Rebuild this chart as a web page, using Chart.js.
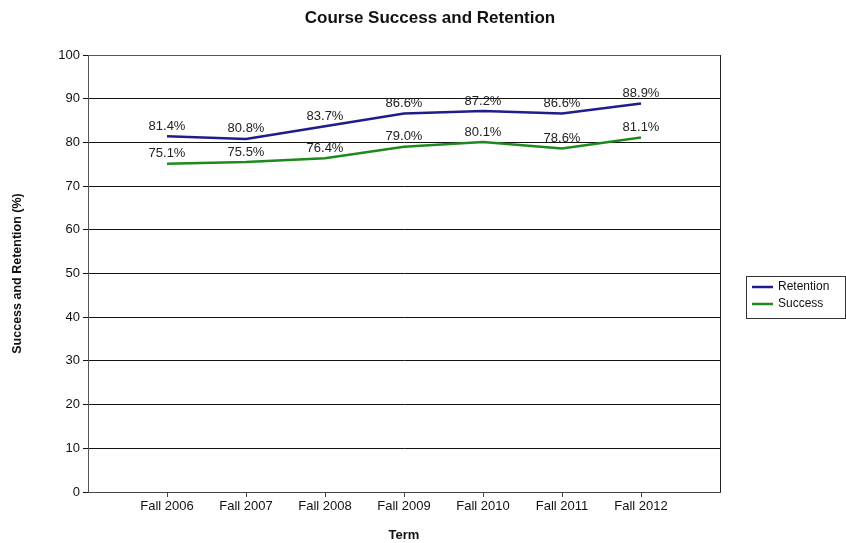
<!DOCTYPE html>
<html>
<head>
<meta charset="utf-8">
<script src="https://cdn.jsdelivr.net/npm/chart.js@4.4.1/dist/chart.umd.min.js"></script>
<style>
  html, body { margin: 0; padding: 0; background: #ffffff; }
  #wrap { width: 846px; height: 543px; position: relative; }
</style>
</head>
<body>
<div id="wrap"><canvas id="c" width="846" height="543"></canvas></div>
<script>
const chartTitle = "Course Success and Retention";
const terms = ["Fall 2006", "Fall 2007", "Fall 2008", "Fall 2009", "Fall 2010", "Fall 2011", "Fall 2012"];
const retention = [81.4, 80.8, 83.7, 86.6, 87.2, 86.6, 88.9];
const success = [75.1, 75.5, 76.4, 79.0, 80.1, 78.6, 81.1];
const seriesNames = ["Retention", "Success"];
const seriesColors = ["#1f1d8a", "#1e8a1e"];

const SANS = "'Liberation Sans', Arial, sans-serif";

function toPoints(arr) { return arr.map((v, i) => ({ x: i + 1, y: v })); }

const titlePlugin = {
  id: 'titlePlugin',
  afterDraw(chart) {
    const ctx = chart.ctx;
    ctx.save();
    ctx.font = "bold 17px " + SANS;
    ctx.fillStyle = "#111111";
    ctx.textAlign = "center";
    ctx.textBaseline = "middle";
    ctx.fillText(chartTitle, 430, 18);
    ctx.restore();
  }
};

const dataLabels = {
  id: 'dataLabels',
  afterDatasetsDraw(chart) {
    const ctx = chart.ctx;
    ctx.save();
    ctx.font = "13px " + SANS;
    ctx.fillStyle = "#222222";
    ctx.textAlign = "center";
    ctx.textBaseline = "middle";
    chart.data.datasets.forEach((ds, di) => {
      const meta = chart.getDatasetMeta(di);
      meta.data.forEach((pt, i) => {
        ctx.fillText(ds.data[i].y.toFixed(1) + "%", pt.x, pt.y - 10);
      });
    });
    ctx.restore();
  }
};

const frame = {
  id: 'frame',
  afterDatasetsDraw(chart) {
    const { ctx, chartArea: a } = chart;
    ctx.save();
    ctx.lineWidth = 1;
    ctx.strokeStyle = "#555555";
    ctx.beginPath();
    ctx.moveTo(a.left, a.top + 0.5);
    ctx.lineTo(a.right + 0.5, a.top + 0.5);
    ctx.stroke();
    ctx.strokeStyle = "#222222";
    ctx.beginPath();
    ctx.moveTo(a.right + 0.5, a.top);
    ctx.lineTo(a.right + 0.5, a.bottom);
    ctx.stroke();
    ctx.restore();
  }
};

const boxLegend = {
  id: 'boxLegend',
  afterDraw(chart) {
    const ctx = chart.ctx;
    const x = 746, y = 276, w = 99, h = 42;
    ctx.save();
    ctx.fillStyle = "#ffffff";
    ctx.fillRect(x, y, w, h);
    ctx.strokeStyle = "#333333";
    ctx.lineWidth = 1;
    ctx.strokeRect(x + 0.5, y + 0.5, w, h);
    ctx.font = "12px " + SANS;
    ctx.textBaseline = "middle";
    ctx.textAlign = "left";
    chart.data.datasets.forEach((ds, i) => {
      const ly = y + 11 + i * 17;
      ctx.strokeStyle = ds.borderColor;
      ctx.lineWidth = 2.5;
      ctx.beginPath();
      ctx.moveTo(x + 6, ly);
      ctx.lineTo(x + 27, ly);
      ctx.stroke();
      ctx.fillStyle = "#111111";
      ctx.fillText(ds.label, x + 32, ly);
    });
    ctx.restore();
  }
};

new Chart(document.getElementById('c'), {
  type: 'line',
  data: {
    datasets: [
      { label: seriesNames[0], data: toPoints(retention), borderColor: seriesColors[0], backgroundColor: seriesColors[0], borderWidth: 2.5, pointRadius: 0, tension: 0 },
      { label: seriesNames[1], data: toPoints(success), borderColor: seriesColors[1], backgroundColor: seriesColors[1], borderWidth: 2.5, pointRadius: 0, tension: 0 }
    ]
  },
  options: {
    responsive: false,
    animation: false,
    events: [],
    layout: { padding: { left: 0, right: 126, top: 55, bottom: 0 } },
    plugins: {
      legend: { display: false },
      tooltip: { enabled: false },
      title: { display: false }
    },
    scales: {
      x: {
        type: 'linear',
        min: 0,
        max: 8,
        afterBuildTicks(scale) {
          scale.ticks = terms.map((t, i) => ({ value: i + 1 }));
        },
        afterFit(scale) { scale.height = 51; },
        ticks: {
          autoSkip: false,
          maxRotation: 0,
          color: "#111111",
          font: { family: SANS, size: 13 },
          padding: 2,
          callback: (v) => terms[v - 1] || ''
        },
        grid: { display: true, drawOnChartArea: false, drawTicks: true, tickLength: 5, color: "#444444" },
        border: { display: true, color: "#444444", width: 1 },
        title: {
          display: true,
          text: "Term",
          color: "#111111",
          font: { family: SANS, size: 13, weight: 'bold' },
          padding: { top: 4, bottom: 0 }
        }
      },
      y: {
        min: 0,
        max: 100,
        afterFit(scale) { scale.width = 88; },
        ticks: {
          stepSize: 10,
          color: "#111111",
          font: { family: SANS, size: 13 },
          padding: 3
        },
        grid: { color: "#111111", lineWidth: 1, tickLength: 5, drawTicks: true },
        border: { display: true, color: "#555555", width: 1 },
        title: {
          display: true,
          text: "Success and Retention (%)",
          color: "#111111",
          font: { family: SANS, size: 12.5, weight: 'bold' },
          padding: { top: 10, bottom: 0 }
        }
      }
    }
  },
  plugins: [frame, dataLabels, boxLegend, titlePlugin]
});
</script>
</body>
</html>
